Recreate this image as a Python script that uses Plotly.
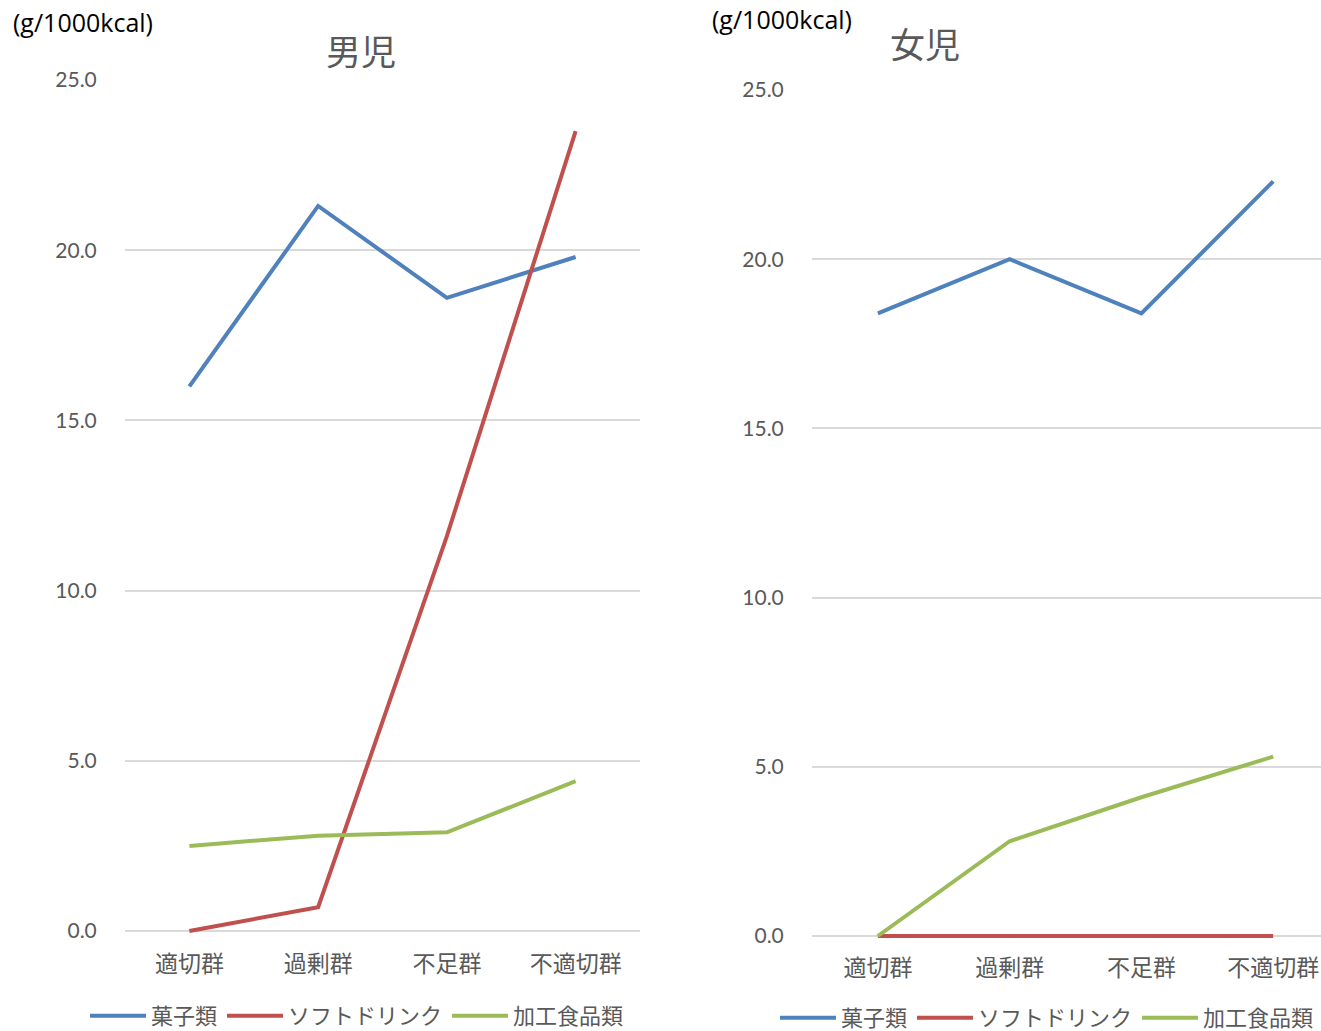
import plotly.graph_objects as go

# Groups on the x axis
groups = ["適切群", "過剰群", "不足群", "不適切群"]
series_names = ["菓子類", "ソフトドリンク", "加工食品類"]

# Boys (g/1000kcal)
boys_sweets = [16.0, 21.3, 18.6, 19.8]
boys_soft = [0.0, 0.7, 11.6, 23.5]
boys_processed = [2.5, 2.8, 2.9, 4.4]

# Girls (g/1000kcal)
girls_sweets = [18.4, 20.0, 18.4, 22.3]
girls_soft = [0.0, 0.0, 0.0, 0.0]
girls_processed = [0.0, 2.8, 4.1, 5.3]

y_ticks = [0, 5, 10, 15, 20, 25]
y_tick_text = ["0.0", "5.0", "10.0", "15.0", "20.0", "25.0"]

colors = ["#4f81bd", "#c0504d", "#9bbb59"]
W, H = 1321, 1031
grey = "#595959"
num_font = "Lato, Open Sans, sans-serif"
jp_font = "Noto Sans CJK JP"

fig = go.Figure()

boys = [boys_sweets, boys_soft, boys_processed]
girls = [girls_sweets, girls_soft, girls_processed]

for name, vals, c in zip(series_names, boys, colors):
    fig.add_trace(go.Scatter(x=groups, y=vals, mode="lines", name=name,
                             line=dict(color=c, width=4), xaxis="x", yaxis="y",
                             legend="legend"))
for name, vals, c in zip(series_names, girls, colors):
    fig.add_trace(go.Scatter(x=groups, y=vals, mode="lines", name=name,
                             line=dict(color=c, width=4), xaxis="x2", yaxis="y2",
                             legend="legend2"))


def px_x(p):
    return p / W


def px_y(p):
    return 1 - p / H


# a little room below zero so lines lying on the baseline are not clipped
y_pad = 0.1

axis_common = dict(showline=False, zeroline=False, showgrid=False,
                   tickfont=dict(family=jp_font, size=23, color=grey))
yaxis_common = dict(range=[-y_pad, 25], tickvals=y_ticks, ticktext=y_tick_text,
                    showgrid=True, gridcolor="#d9d9d9", gridwidth=1.5,
                    zeroline=False, showline=False,
                    tickfont=dict(family=num_font, size=21, color=grey),
                    ticks="outside", ticklen=23, tickcolor="rgba(0,0,0,0)")

# pixel scale of each value axis (0 and 25 grid rows)
l_zero, l_top = 931, 80
r_zero, r_top = 936, 90
l_bottom = l_zero + y_pad * (l_zero - l_top) / 25
r_bottom = r_zero + y_pad * (r_zero - r_top) / 25

legend_common = dict(orientation="h", xanchor="left", yanchor="middle",
                     itemwidth=56, font=dict(family=jp_font, size=22, color=grey),
                     tracegroupgap=0, itemclick=False, bgcolor="rgba(0,0,0,0)")

fig.update_layout(
    width=W, height=H,
    margin=dict(l=0, r=0, t=0, b=0, autoexpand=False),
    plot_bgcolor="white", paper_bgcolor="white",
    xaxis=dict(domain=[px_x(125), px_x(640)], range=[-0.5, 3.5], anchor="y",
               ticks="outside", ticklen=9, tickcolor="rgba(0,0,0,0)", **axis_common),
    yaxis=dict(domain=[px_y(l_bottom), px_y(l_top)], anchor="x", **yaxis_common),
    xaxis2=dict(domain=[px_x(812), 1.0], range=[-0.5, 3.363], anchor="y2",
                ticks="outside", ticklen=8, tickcolor="rgba(0,0,0,0)", **axis_common),
    yaxis2=dict(domain=[px_y(r_bottom), px_y(r_top)], anchor="x2", **yaxis_common),
    legend=dict(x=px_x(85), y=px_y(1016), **legend_common),
    legend2=dict(x=px_x(775), y=px_y(1018), **legend_common),
    showlegend=True,
)

annotations = [
    dict(text="(g/1000kcal)", x=px_x(11), y=px_y(22), xanchor="left", yanchor="middle",
         font=dict(family="Open Sans, sans-serif", size=25, color="black")),
    dict(text="(g/1000kcal)", x=px_x(710), y=px_y(19), xanchor="left", yanchor="middle",
         font=dict(family="Open Sans, sans-serif", size=25, color="black")),
    dict(text="男児", x=px_x(361), y=px_y(50), xanchor="center", yanchor="middle",
         font=dict(family=jp_font, size=35, color=grey)),
    dict(text="女児", x=px_x(925), y=px_y(43), xanchor="center", yanchor="middle",
         font=dict(family=jp_font, size=35, color=grey)),
]
for a in annotations:
    a.update(xref="paper", yref="paper", showarrow=False)
fig.update_layout(annotations=annotations)

fig.write_html("out.html")
